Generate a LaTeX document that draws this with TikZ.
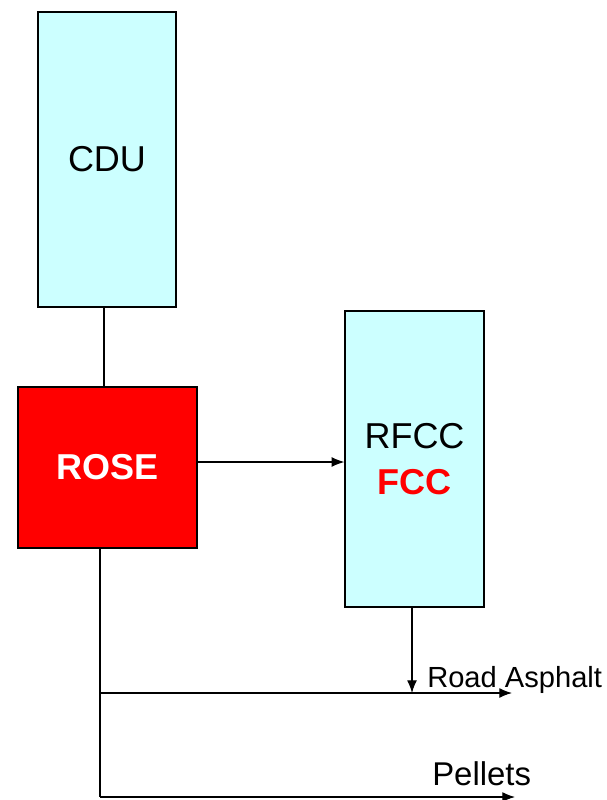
\documentclass[tikz,border=0pt]{standalone}
\usepackage{fontspec}
\setmainfont{Liberation Sans}
\usetikzlibrary{arrows.meta}
\definecolor{bleuclair}{HTML}{CCFFFF}
\definecolor{rouge}{HTML}{FF0000}
\begin{document}
\begin{tikzpicture}[
    x=0.025cm, y=-0.025cm,
    % Réglages des boîtes
    unite/.style={draw, line width=0.9pt, fill=bleuclair, inner sep=0pt,
        font=\fontsize{25.6}{30}\selectfont, align=center},
    rose/.style={unite, fill=rouge, text=white, font=\fontsize{25.6}{30}\selectfont\bfseries},
    produit/.style={anchor=base west, inner sep=0pt, font=\fontsize{20.7}{25}\selectfont},
    flux/.style={line width=0.8pt, -{Latex[length=9pt, width=7pt]}}
]
\useasboundingbox (0,0) rectangle (606,800);
% Unités
\node[unite, minimum width=138*0.025cm, minimum height=295*0.025cm] (cdu) at (107,159.5) {CDU};
\node[rose, minimum width=179*0.025cm, minimum height=161*0.025cm] (rose) at (107.5,467.5) {ROSE};
\node[unite, minimum width=139*0.025cm, minimum height=296*0.025cm] (rfcc) at (414.5,459) {RFCC\\[3pt]\textcolor{rouge}{\bfseries FCC}};
% Produits
\node[produit] (asphalte) at (427,687) {Road Asphalt};
\node[produit, font=\fontsize{23.4}{28}\selectfont] (pellets) at (432,785) {Pellets};
\coordinate (asph-fin) at (512,693);
\coordinate (pel-fin) at (515,797);
\coordinate (coin) at (100,797);
% Liaisons
\draw[line width=0.8pt] (cdu.south -| 104,0) -- (rose.north -| 104,0);
\draw[flux] (rose.east |- 0,462) -- (rfcc.west |- 0,462);
\draw[flux] (rfcc.south -| 412,0) -- (asph-fin -| 412,0);
\draw[line width=0.8pt] (rose.south -| coin) -- (coin);
\draw[flux] (asph-fin -| coin) -- (asph-fin);
\draw[flux] (coin) -- (pel-fin);
\end{tikzpicture}
\end{document}
